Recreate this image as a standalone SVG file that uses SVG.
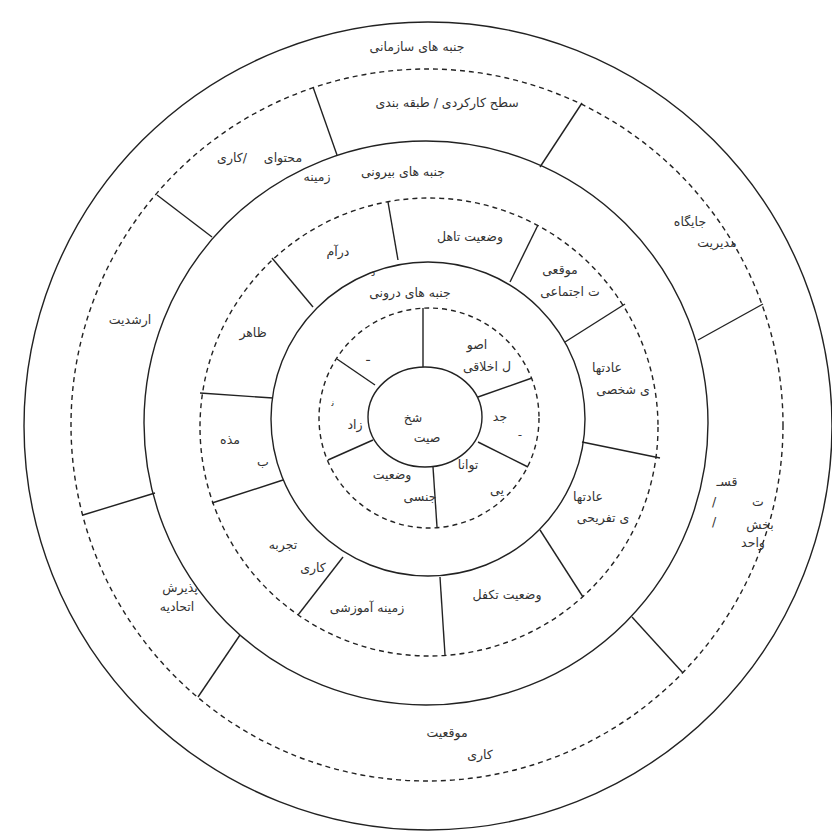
<svg xmlns="http://www.w3.org/2000/svg" width="832" height="834" viewBox="0 0 832 834">
<style>
.s{fill:none;stroke:#222;stroke-width:1.4}
.d{fill:none;stroke:#222;stroke-width:1.4;stroke-dasharray:5 4}
.l{stroke:#222;stroke-width:1.4}
text{font-family:"DejaVu Sans","Noto Sans",sans-serif;font-size:12.5px;fill:#333;text-anchor:middle}
.sm{font-size:10px}
</style>
<rect width="832" height="834" fill="#fff"/>
<g id="rings">
<circle class="s" cx="428" cy="426" r="404"/>
<circle class="d" cx="427" cy="425" r="356"/>
<circle class="s" cx="426" cy="423" r="282"/>
<circle class="d" cx="429" cy="427" r="229"/>
<circle class="s" cx="428" cy="419" r="157"/>
<circle class="d" cx="429" cy="418" r="110"/>
<ellipse class="s" cx="425" cy="417" rx="57" ry="50"/>
</g>
<g id="connectors">
<line class="l" x1="313" y1="87" x2="337" y2="155"/>
<line class="l" x1="582" y1="103" x2="540" y2="167"/>
<line class="l" x1="763" y1="304" x2="698" y2="340"/>
<line class="l" x1="632" y1="617" x2="683" y2="673"/>
<line class="l" x1="240" y1="635" x2="198" y2="697"/>
<line class="l" x1="155" y1="493" x2="83" y2="515"/>
<line class="l" x1="157" y1="195" x2="212" y2="237"/>
<line class="l" x1="388" y1="202" x2="398" y2="260"/>
<line class="l" x1="538" y1="225" x2="510" y2="282"/>
<line class="l" x1="625" y1="304" x2="565" y2="342"/>
<line class="l" x1="582" y1="442" x2="660" y2="458"/>
<line class="l" x1="540" y1="530" x2="583" y2="597"/>
<line class="l" x1="440" y1="577" x2="445" y2="655"/>
<line class="l" x1="343" y1="557" x2="298" y2="615"/>
<line class="l" x1="283" y1="480" x2="212" y2="503"/>
<line class="l" x1="200" y1="393" x2="273" y2="398"/>
<line class="l" x1="272" y1="258" x2="313" y2="307"/>
<line class="l" x1="423" y1="308" x2="423" y2="367"/>
<line class="l" x1="337" y1="359" x2="375" y2="385"/>
<line class="l" x1="478" y1="397" x2="532" y2="378"/>
<line class="l" x1="478" y1="442" x2="528" y2="467"/>
<line class="l" x1="433" y1="467" x2="437" y2="527"/>
<line class="l" x1="373" y1="440" x2="328" y2="460"/>
</g>
<g id="organizational"><text x="417" y="51">جنبه های سازمانی</text></g>
<g id="functional-level"><text x="447" y="107">سطح کارکردی / طبقه بندی</text></g>
<g id="job-content"><text x="283" y="162">محتوای</text><text x="232" y="162">کاری/</text><text x="317" y="181">زمینه</text></g>
<g id="management-position"><text x="690" y="226">جایگاه</text><text x="717" y="247">مدیریت</text></g>
<g id="unit"><text x="727" y="486">قسـ</text><text x="758" y="506">ت</text><text x="714" y="506">/</text><text x="714" y="526">/</text><text x="760" y="529">بخش</text><text x="753" y="547">واحد</text></g>
<g id="job-position"><text x="447" y="737">موقعیت</text><text x="480" y="759">کاری</text></g>
<g id="union-acceptance"><text x="180" y="592">پذیرش</text><text x="177" y="611">اتحادیه</text></g>
<g id="seniority"><text x="130" y="324">ارشدیت</text></g>
<g id="external"><text x="403" y="176">جنبه های بیرونی</text></g>
<g id="income"><text x="338" y="256">درآم</text><text class="sm" x="373" y="276">د</text></g>
<g id="marital"><text x="470" y="241">وضعیت تاهل</text></g>
<g id="social-position"><text x="560" y="274">موقعی</text><text x="570" y="296">ت اجتماعی</text></g>
<g id="personal-habits"><text x="607" y="372">عادتها</text><text x="623" y="394">ی شخصی</text></g>
<g id="leisure-habits"><text x="588" y="501">عادتها</text><text x="603" y="522">ی تفریحی</text></g>
<g id="dependency"><text x="507" y="599">وضعیت تکفل</text></g>
<g id="education"><text x="367" y="612">زمینه آموزشی</text></g>
<g id="work-experience"><text x="283" y="549">تجربه</text><text x="313" y="572">کاری</text></g>
<g id="religion"><text x="230" y="444">مذه</text><text x="263" y="466">ب</text></g>
<g id="appearance"><text x="253" y="337">ظاهر</text></g>
<g id="internal"><text x="410" y="297">جنبه های درونی</text></g>
<g id="ethics"><text x="477" y="349">اصو</text><text x="487" y="371">ل اخلاقی</text></g>
<g id="dash-segment"><text x="368" y="361">ـ</text></g>
<g id="attractiveness"><text x="500" y="421">جد</text><text class="sm" x="520" y="436">ـ</text></g>
<g id="ability"><text x="468" y="469">توانا</text><text x="497" y="494">یی</text></g>
<g id="gender"><text x="392" y="479">وضعیت</text><text x="420" y="501">جنسی</text></g>
<g id="race"><text class="sm" x="333" y="406">ﻧ</text><text x="355" y="429">زاد</text></g>
<g id="personality"><text x="413" y="422">شخ</text><text x="427" y="442">صیت</text></g>
</svg>
